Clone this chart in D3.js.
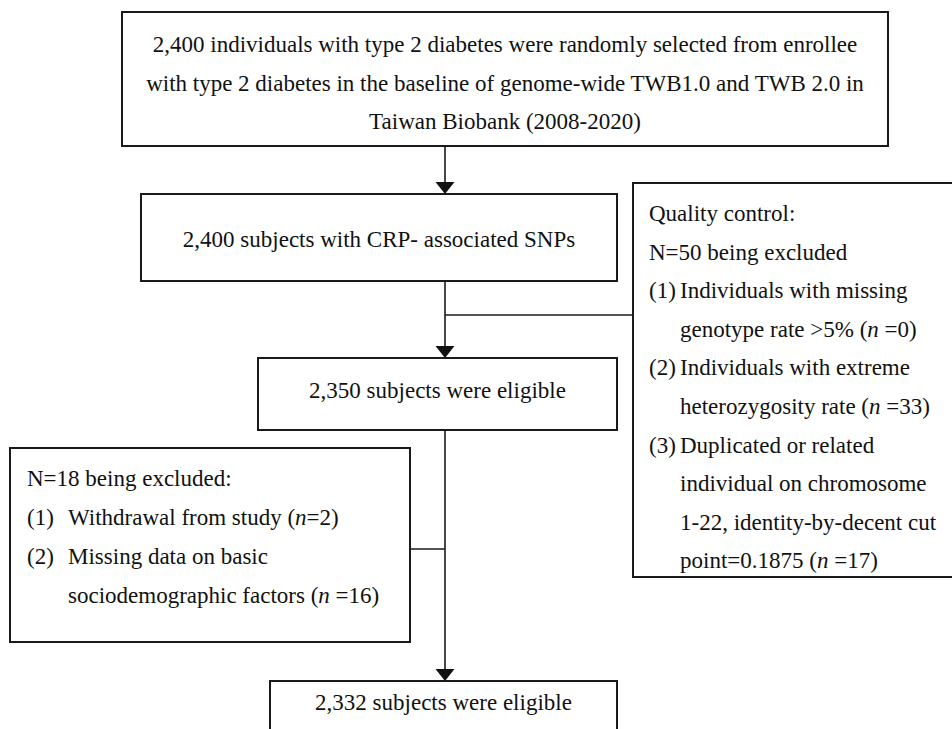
<!DOCTYPE html>
<html><head><meta charset="utf-8">
<script src="https://cdn.jsdelivr.net/npm/d3@7"></script>
<style>
body{margin:0;background:#fff;overflow:hidden}
svg{display:block}
</style>
</head><body>
<svg id="chart" width="952" height="729"></svg>
<script>
// ---- content (data) ----
const sourceLines = [
  "2,400 individuals with type 2 diabetes were randomly selected from enrollee",
  "with type 2 diabetes in the baseline of genome-wide TWB1.0 and TWB 2.0 in",
  "Taiwan Biobank (2008-2020)"
];
const stepLabels = [
  "2,400 subjects with CRP- associated SNPs",
  "2,350 subjects were eligible",
  "2,332 subjects were eligible"
];
const qcHeader = ["Quality control:", "N=50 being excluded"];
const qcItems = [
  {label: "(1)", lines: ["Individuals with missing", "genotype rate >5% (*n* =0)"]},
  {label: "(2)", lines: ["Individuals with extreme", "heterozygosity rate (*n* =33)"]},
  {label: "(3)", lines: ["Duplicated or related", "individual on chromosome", "1-22, identity-by-decent cut", "point=0.1875 (*n* =17)"]}
];
const exclHeader = ["N=18 being excluded:"];
const exclItems = [
  {label: "(1)", lines: ["Withdrawal from study (*n*=2)"]},
  {label: "(2)", lines: ["Missing data on basic", "sociodemographic factors (*n* =16)"]}
];

// ---- layout ----
const FONT = "'Liberation Serif', 'Times New Roman', Times, 'DejaVu Serif', serif";
const FS = 23;
const svg = d3.select("#chart");
const mainX = 445;
const boxes = {
  source: {x: 122, y: 12, w: 766, h: 134},
  s1: {x: 141, y: 194, w: 476, h: 87},
  s2: {x: 258, y: 358, w: 359, h: 72},
  s3: {x: 270, y: 681, w: 347, h: 80},
  qc: {x: 633, y: 183, w: 340, h: 394},
  ex: {x: 10, y: 448, w: 400, h: 194}
};

function richText(sel, str) {
  sel.attr("font-family", FONT).attr("font-size", FS).attr("fill", "#111");
  const parts = str.split("*");
  parts.forEach((p, i) => {
    if (!p) return;
    const t = sel.append("tspan").text(p);
    if (i % 2 === 1) t.attr("font-style", "italic");
  });
}

const gBoxes = svg.append("g");
Object.values(boxes).forEach(b => {
  gBoxes.append("rect").attr("x", b.x).attr("y", b.y).attr("width", b.w).attr("height", b.h)
    .attr("fill", "none").attr("stroke", "#1a1a1a").attr("stroke-width", 2);
});

// connectors
const gLines = svg.append("g").attr("stroke", "#1a1a1a").attr("stroke-width", 1.6).attr("fill", "none");
const seg = (x1, y1, x2, y2) => gLines.append("line").attr("x1", x1).attr("y1", y1).attr("x2", x2).attr("y2", y2);
const arrowHead = (x, yTip) => svg.append("path")
  .attr("d", d3.line()([[x - 9.5, yTip - 12], [x + 9.5, yTip - 12], [x, yTip]]) + "Z")
  .attr("fill", "#111");

const B = boxes;
seg(mainX, B.source.y + B.source.h, mainX, B.s1.y - 11); arrowHead(mainX, B.s1.y);
seg(mainX, B.s1.y + B.s1.h, mainX, B.s2.y - 11); arrowHead(mainX, B.s2.y);
const qcJoinY = 315;
seg(mainX, qcJoinY, B.qc.x, qcJoinY);
seg(mainX, B.s2.y + B.s2.h, mainX, B.s3.y - 11); arrowHead(mainX, B.s3.y);
const exJoinY = 549;
seg(B.ex.x + B.ex.w, exJoinY, mainX, exJoinY);

// texts
const gText = svg.append("g");
const center = (b, lines, firstBase, step) => lines.forEach((l, i) => {
  richText(gText.append("text").attr("x", b.x + b.w / 2).attr("y", firstBase + i * step).attr("text-anchor", "middle"), l);
});
center(B.source, sourceLines, 52, 38.5);
center(B.s1, [stepLabels[0]], 247, 0);
center(B.s2, [stepLabels[1]], 398, 0);
center(B.s3, [stepLabels[2]], 710, 0);

function listBlock(header, items, x0, xIndent, firstBase, step) {
  let row = 0;
  header.forEach(h => {
    richText(gText.append("text").attr("x", x0).attr("y", firstBase + row * step), h);
    row++;
  });
  items.forEach(it => {
    richText(gText.append("text").attr("x", x0).attr("y", firstBase + row * step), it.label);
    it.lines.forEach(l => {
      richText(gText.append("text").attr("x", xIndent).attr("y", firstBase + row * step), l);
      row++;
    });
  });
}
listBlock(qcHeader, qcItems, 649, 680, 221, 38.6);
listBlock(exclHeader, exclItems, 27, 68, 486, 39);
</script>
</body></html>
